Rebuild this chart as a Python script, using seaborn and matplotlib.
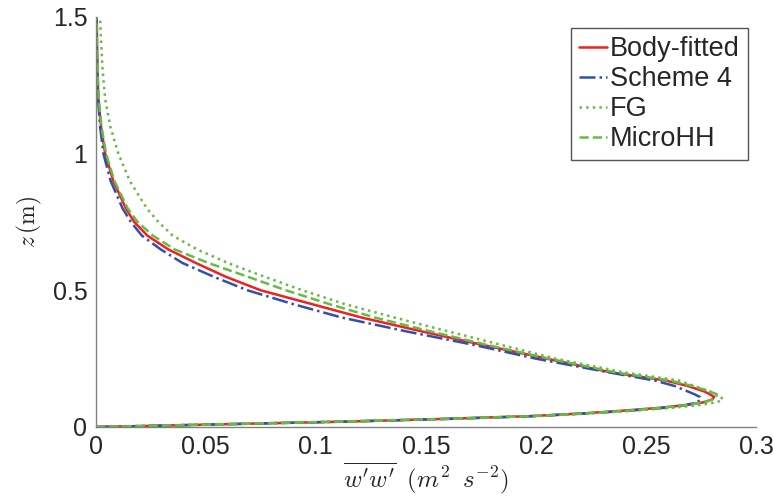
import numpy as np
import pandas as pd
import seaborn as sns
import matplotlib.pyplot as plt

sns.set_theme(style="white")
plt.rcParams['font.family'] = ['Liberation Sans', 'DejaVu Sans']
plt.rcParams['mathtext.fontset'] = 'cm'

# heights z (m), shared by all profiles
z = [0, 0.005, 0.01, 0.02, 0.03, 0.04, 0.05, 0.06, 0.07, 0.08, 0.09, 0.10,
     0.11, 0.12, 0.13, 0.15, 0.17, 0.20, 0.25, 0.30, 0.35, 0.40, 0.45, 0.50,
     0.55, 0.60, 0.65, 0.70, 0.75, 0.80, 0.90, 1.00, 1.10, 1.20, 1.30, 1.40, 1.50]

# w'w' (m^2 s^-2) for each case
body_fitted = [0, 0.030, 0.058, 0.115, 0.160, 0.198, 0.222, 0.240, 0.256, 0.268,
               0.276, 0.280, 0.281, 0.279, 0.2765, 0.269, 0.259, 0.234, 0.205,
               0.176, 0.148, 0.121, 0.098, 0.075, 0.059, 0.0455, 0.0329, 0.0235,
               0.0175, 0.0137, 0.0080, 0.0043, 0.0024, 0.0012, 0.0008, 0.0006, 0.0005]
scheme4 = [0, 0.030, 0.058, 0.115, 0.162, 0.200, 0.224, 0.243, 0.258, 0.268,
           0.273, 0.275, 0.2745, 0.272, 0.269, 0.263, 0.254, 0.233, 0.200,
           0.172, 0.141, 0.112, 0.0895, 0.069, 0.0535, 0.0394, 0.0295, 0.021,
           0.016, 0.0122, 0.0068, 0.0035, 0.0020, 0.0011, 0.0007, 0.0005, 0.0004]
fg = [0, 0.028, 0.056, 0.112, 0.160, 0.200, 0.225, 0.245, 0.262, 0.274,
      0.282, 0.285, 0.284, 0.282, 0.279, 0.272, 0.265, 0.240, 0.209,
      0.1845, 0.160, 0.136, 0.113, 0.094, 0.0766, 0.060, 0.046, 0.035,
      0.0285, 0.0232, 0.0155, 0.0103, 0.0066, 0.0043, 0.0032, 0.0025, 0.0020]
microhh = [0, 0.028, 0.056, 0.112, 0.160, 0.199, 0.223, 0.242, 0.257, 0.268,
           0.276, 0.280, 0.282, 0.282, 0.279, 0.271, 0.261, 0.236, 0.206,
           0.178, 0.152, 0.127, 0.106, 0.0865, 0.069, 0.0512, 0.0358, 0.026,
           0.019, 0.0145, 0.0085, 0.0047, 0.0026, 0.0014, 0.0009, 0.0006, 0.0005]

names = ["Body-fitted", "Scheme 4", "FG", "MicroHH"]
series = [body_fitted, scheme4, fg, microhh]
colors = ["#ee2020", "#3350a8", "#66bb44", "#66bb44"]
styles = ["-", "-.", ":", "--"]

fig = plt.figure(figsize=(7.73, 4.99), dpi=100)
ax = fig.add_axes([0.1238, 0.1443, 0.978 - 0.1238, 0.966 - 0.1443])

for name, vals, col, ls in zip(names, series, colors, styles):
    df = pd.DataFrame({"w": vals, "z": z})
    sns.lineplot(data=df, x="w", y="z", orient="y", estimator=None, sort=True,
                 color=col, linestyle=ls, linewidth=1.8, label=name, ax=ax)

ax.set_xlim(0, 0.3)
ax.set_ylim(0, 1.5)
ax.set_xticks([0, 0.05, 0.1, 0.15, 0.2, 0.25, 0.3])
ax.set_xticklabels(["0", "0.05", "0.1", "0.15", "0.2", "0.25", "0.3"])
ax.set_yticks([0, 0.5, 1, 1.5])
ax.set_yticklabels(["0", "0.5", "1", "1.5"])

for s in ["top", "right"]:
    ax.spines[s].set_visible(False)
for s in ["left", "bottom"]:
    ax.spines[s].set_color("#808080")
    ax.spines[s].set_linewidth(1.0)
ax.tick_params(direction="in", length=5.5, width=1.0, color="#808080",
               labelsize=18, labelcolor="#262626", pad=6)

ax.set_xlabel(r"$\overline{w^\prime w^\prime}\;\;(m^2\;\;s^{-2})$", fontsize=18,
              color="#262626", labelpad=1)
ax.set_ylabel(r"$z\,(\mathrm{m})$", fontsize=17, color="#262626", labelpad=6)

leg = ax.legend(loc="upper right", bbox_to_anchor=(0.988, 0.973), fontsize=19.5,
                frameon=True, fancybox=False, framealpha=1, edgecolor="#555555",
                handlelength=1.05, handletextpad=0.1, labelspacing=0.15,
                borderpad=0.3, borderaxespad=0)
leg.get_frame().set_linewidth(1.0)
for t in leg.get_texts():
    t.set_color("#262626")

fig.savefig("out.png", dpi=100)
